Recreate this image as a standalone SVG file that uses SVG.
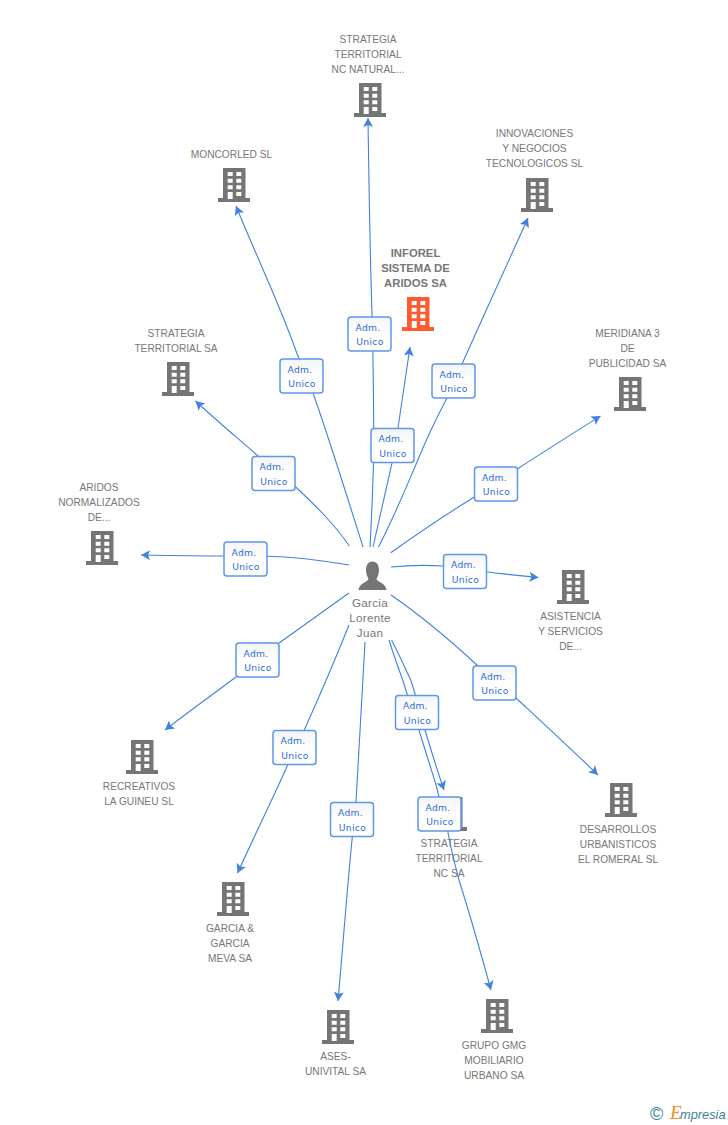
<svg xmlns="http://www.w3.org/2000/svg" width="728" height="1125" viewBox="0 0 728 1125">
<style>
.n{font:10.2px "Liberation Sans",Arial,sans-serif;fill:#777;text-anchor:middle}
.b{font-weight:bold;font-size:11.3px}
.p{font-size:11.6px;letter-spacing:.3px}
.c{fill:none;stroke:#3f82e0;stroke-width:1.1;marker-end:url(#a)}
.l rect{fill:url(#g);stroke:#5e97e8;stroke-width:1.5;rx:3px;width:43px;height:34px}
.l text{font:9.200px "DejaVu Sans",sans-serif;fill:#2a6cd6;letter-spacing:.3px}
</style>
<defs>
<linearGradient id="g" x1="0" y1="0" x2="0" y2="1"><stop offset="0" stop-color="#f4f4f4"/><stop offset=".5" stop-color="#fff"/></linearGradient>
<marker id="a" markerUnits="userSpaceOnUse" markerWidth="12" markerHeight="12" refX="9" refY="5" orient="auto"><path d="M0 0L9 5L0 10L2 5z" fill="#3f82e0"/></marker>
<symbol id="bld" width="32" height="34" viewBox="0 0 32 34"><path fill-rule="evenodd" d="M5 0H27.500V30H32V34H0V30H5ZM9.700 4V8H14.700V4ZM18.300 4V8H23.300V4ZM9.700 10.700V14.700H14.700V10.700ZM18.300 10.700V14.700H23.300V10.700ZM9.700 17.300V21.300H14.700V17.300ZM18.300 17.300V21.300H23.300V17.300ZM9.700 24V31H14.700V24ZM18.300 24V28H23.300V24Z"/></symbol>
</defs>
<g id="node-inforel" fill="#ff5a30"><use href="#bld" x="402" y="297"/><text class="n b" x="415.500" y="257">INFOREL</text><text class="n b" x="415.500" y="272">SISTEMA DE</text><text class="n b" x="415.500" y="287">ARIDOS SA</text></g>
<g id="node-nc-natural" fill="#757575"><use href="#bld" x="354" y="83"/><text class="n" x="368" y="43">STRATEGIA</text><text class="n" x="368" y="58">TERRITORIAL</text><text class="n" x="368" y="73">NC NATURAL...</text></g>
<g id="node-moncorled" fill="#757575"><use href="#bld" x="218" y="168"/><text class="n" x="231.500" y="158">MONCORLED SL</text></g>
<g id="node-innovaciones" fill="#757575"><use href="#bld" x="521" y="178"/><text class="n" x="534.500" y="137">INNOVACIONES</text><text class="n" x="534.500" y="152">Y NEGOCIOS</text><text class="n" x="534.500" y="167">TECNOLOGICOS SL</text></g>
<g id="node-territorial-sa" fill="#757575"><use href="#bld" x="162" y="362"/><text class="n" x="176" y="337">STRATEGIA</text><text class="n" x="176" y="352">TERRITORIAL SA</text></g>
<g id="node-meridiana" fill="#757575"><use href="#bld" x="614" y="377"/><text class="n" x="627.500" y="337">MERIDIANA 3</text><text class="n" x="627.500" y="352">DE</text><text class="n" x="627.500" y="367">PUBLICIDAD SA</text></g>
<g id="node-aridos" fill="#757575"><use href="#bld" x="86" y="531"/><text class="n" x="99" y="491">ARIDOS</text><text class="n" x="99" y="506">NORMALIZADOS</text><text class="n" x="99" y="521">DE...</text></g>
<g id="node-asistencia" fill="#757575"><use href="#bld" x="557" y="570"/><text class="n" x="570.500" y="620">ASISTENCIA</text><text class="n" x="570.500" y="635">Y SERVICIOS</text><text class="n" x="570.500" y="650">DE...</text></g>
<g id="node-recreativos" fill="#757575"><use href="#bld" x="126" y="740"/><text class="n" x="139" y="790">RECREATIVOS</text><text class="n" x="139" y="805">LA GUINEU SL</text></g>
<g id="node-desarrollos" fill="#757575"><use href="#bld" x="605" y="783"/><text class="n" x="618" y="833">DESARROLLOS</text><text class="n" x="618" y="848">URBANISTICOS</text><text class="n" x="618" y="863">EL ROMERAL SL</text></g>
<g id="node-garcia" fill="#757575"><use href="#bld" x="217" y="882"/><text class="n" x="230" y="932">GARCIA &amp;</text><text class="n" x="230" y="947">GARCIA</text><text class="n" x="230" y="962">MEVA SA</text></g>
<g id="node-ases" fill="#757575"><use href="#bld" x="322" y="1010"/><text class="n" x="335.500" y="1060">ASES-</text><text class="n" x="335.500" y="1075">UNIVITAL SA</text></g>
<g id="node-grupo" fill="#757575"><use href="#bld" x="481" y="999"/><text class="n" x="494" y="1049">GRUPO GMG</text><text class="n" x="494" y="1064">MOBILIARIO</text><text class="n" x="494" y="1079">URBANO SA</text></g>
<g id="node-nc-sa" fill="#757575"><use href="#bld" x="435" y="797"/><text class="n" x="449" y="847">STRATEGIA</text><text class="n" x="449" y="862">TERRITORIAL</text><text class="n" x="449" y="877">NC SA</text></g>
<g id="node-garcia-lorente"><path fill="#757575" d="M372.500 561.500C377 561.500 379 565.500 379 570C379 574 377.500 577 376.500 579C377 582 386 583 386.500 590H358.500C359 583 368 582 368.500 579C367.500 577 366 574 366 570C366 565.500 368 561.500 372.500 561.500Z"/><text class="n p" x="370" y="607">Garcia</text><text class="n p" x="370" y="622">Lorente</text><text class="n p" x="370" y="637">Juan</text></g>
<g id="connectors">
<path class="c" d="M370 547C372 510 374 470 373.700 430C373.500 390 373 350 372 315C370 250 369 190 368 118"/>
<path class="c" d="M363 547C345 490 328 435 313 393C305 370 300 362 296 351C280 305 258 260 236 206"/>
<path class="c" d="M373 547C380 515 386 490 392 463C394 450 396 440 398 428C402 400 406 375 410 347"/>
<path class="c" d="M378.500 547C395 515 405 490 417 462C428 435 438 415 447 398C470 345 500 280 528 218"/>
<path class="c" d="M349.300 546C335 525 318 508 295.700 487C285 478 270 466 258 456C240 440 218 422 195.500 401"/>
<path class="c" d="M390.700 552.700C420 532 448 513 474.500 497L517.300 469C545 451 572 434 600.500 416"/>
<path class="c" d="M349 565C325 561 295 557 267 556.300L223 556C195 556 168 555.500 141 555"/>
<path class="c" d="M391 567C410 565 428 565 443 566L487 572C505 574 520 576 538.500 577.500"/>
<path class="c" d="M349 593C325 610 302 627 279 643L236 677C212 695 188 712 165 730"/>
<path class="c" d="M391 595C420 615 450 640 478 666L516 698C545 725 572 750 598 775"/>
<path class="c" d="M349 625C335 660 320 695 304.300 730L287.700 765C272 800 255 835 237.500 873"/>
<path class="c" d="M365 642C362 695 359 750 356 802L352.300 837C347 890 343 945 338 1001"/>
<path class="c" d="M391.500 640C398 652 405 668 410.700 680C416 695 420 712 425 730C431 750 437 770 444 790"/>
<path class="c" d="M389 640C393 653 398 667 402.700 680C408 697 413 713 419 730C425 750 431 768 436 785C440 800 444 817 447.700 831C451 850 455 865 459 880C470 915 480 950 491 990"/>
</g>
<g id="edge-labels" class="l">
<g transform="translate(348 317)"><rect/><text x="7.500" y="13.500">Adm.</text><text x="8.300" y="28.300">Unico</text></g>
<g transform="translate(280 359)"><rect/><text x="7.500" y="13.500">Adm.</text><text x="8.300" y="28.300">Unico</text></g>
<g transform="translate(371 428.500)"><rect/><text x="7.500" y="13.500">Adm.</text><text x="8.300" y="28.300">Unico</text></g>
<g transform="translate(432 364)"><rect/><text x="7.500" y="13.500">Adm.</text><text x="8.300" y="28.300">Unico</text></g>
<g transform="translate(252 456.500)"><rect/><text x="7.500" y="13.500">Adm.</text><text x="8.300" y="28.300">Unico</text></g>
<g transform="translate(474.500 467)"><rect/><text x="7.500" y="13.500">Adm.</text><text x="8.300" y="28.300">Unico</text></g>
<g transform="translate(224 542)"><rect/><text x="7.500" y="13.500">Adm.</text><text x="8.300" y="28.300">Unico</text></g>
<g transform="translate(443.500 554.500)"><rect/><text x="7.500" y="13.500">Adm.</text><text x="8.300" y="28.300">Unico</text></g>
<g transform="translate(236 643)"><rect/><text x="7.500" y="13.500">Adm.</text><text x="8.300" y="28.300">Unico</text></g>
<g transform="translate(473 666)"><rect/><text x="7.500" y="13.500">Adm.</text><text x="8.300" y="28.300">Unico</text></g>
<g transform="translate(273 730.500)"><rect/><text x="7.500" y="13.500">Adm.</text><text x="8.300" y="28.300">Unico</text></g>
<g transform="translate(330.500 802.500)"><rect/><text x="7.500" y="13.500">Adm.</text><text x="8.300" y="28.300">Unico</text></g>
<g transform="translate(395.500 695.500)"><rect/><text x="7.500" y="13.500">Adm.</text><text x="8.300" y="28.300">Unico</text></g>
<g transform="translate(418 797)"><rect/><text x="7.500" y="13.500">Adm.</text><text x="8.300" y="28.300">Unico</text></g>
</g>
<g id="logo"><text x="650" y="1120" font-family="'Liberation Sans',sans-serif" font-size="18" fill="#3d7f96">©</text><text x="670" y="1119" font-family="'Liberation Serif',serif" font-style="italic" font-size="19" fill="#f08a24">E</text><text x="680" y="1118.500" font-family="'Liberation Sans',sans-serif" font-style="italic" font-size="12.800" fill="#3d7f96">mpresia</text></g>
</svg>
